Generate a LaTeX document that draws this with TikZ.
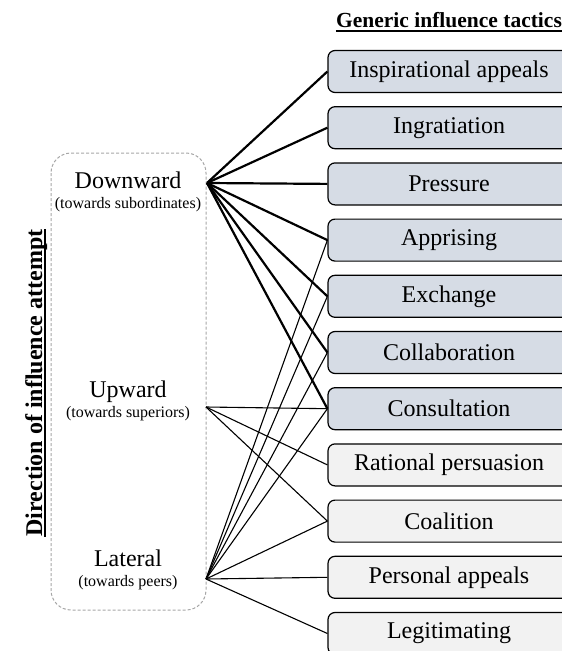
\documentclass[tikz,border=0pt]{standalone}
\usepackage{fontspec}
\setmainfont{Liberation Serif}
\usetikzlibrary{positioning}

\definecolor{tacticblue}{HTML}{D6DCE5}
\definecolor{tacticgray}{HTML}{F2F2F2}
\definecolor{framegray}{HTML}{A6A6A6}

\tikzset{
    tactic/.style={draw, line width=1.2pt, rounded corners=7pt, minimum width=242pt,
        minimum height=42pt, inner sep=0pt, font=\fontsize{24}{28}\selectfont},
    dirlabel/.style={anchor=base, inner sep=0pt, font=\fontsize{24}{28}\selectfont},
    dirsub/.style={anchor=base, inner sep=0pt, font=\fontsize{16}{19}\selectfont},
    strong/.style={line width=2.2pt},
    weak/.style={line width=1.1pt},
}

\begin{document}
\begin{tikzpicture}[x=1pt, y=-1pt]
    \useasboundingbox (0,0) rectangle (562,651);
    \clip (0,0) rectangle (562,651);
    \def\pitch{56.2}

    % tactics, the first seven shaded
    \foreach[count=\i] \val/\shade in {Inspirational appeals/tacticblue, Ingratiation/tacticblue,
        Pressure/tacticblue, Apprising/tacticblue, Exchange/tacticblue, Collaboration/tacticblue,
        Consultation/tacticblue, Rational persuasion/tacticgray, Coalition/tacticgray,
        Personal appeals/tacticgray, Legitimating/tacticgray} {
        \node[tactic, fill=\shade] (t\i) at (449, {71.5+\pitch*(\i-1)}) {\val};
    }
    \node[anchor=base, inner sep=0pt, font=\bfseries\fontsize{21.5}{24}\selectfont] (title) at (449,27) {Generic influence tactics};
    \draw[line width=1.8pt] ([yshift=-4pt]title.base west) -- ([yshift=-4pt]title.base east);

    % directions
    \draw[framegray, line width=1pt, dash pattern=on 3pt off 2pt, rounded corners=20pt] (51,153) rectangle (206,610);
    \node[dirlabel] (down) at (128,188) {Downward};
    \node[dirsub] (down-sub) at (128,208) {(towards subordinates)};
    \node[dirlabel] (up) at (128,397) {Upward};
    \node[dirsub] (up-sub) at (128,417) {(towards superiors)};
    \node[dirlabel] (lat) at (128,566) {Lateral};
    \node[dirsub] (lat-sub) at (128,586) {(towards peers)};
    \coordinate (down-out) at (207,183);
    \coordinate (up-out) at (206,407);
    \coordinate (lat-out) at (206,579);

    \node[rotate=90, anchor=base, inner sep=0pt, font=\bfseries\fontsize{24}{28}\selectfont] (dir) at (42,383) {Direction of influence attempt};
    \draw[line width=1.8pt] ([xshift=3pt]dir.base west) -- ([xshift=3pt]dir.base east);

    \foreach \t in {1,...,7}
        \draw[strong] (down-out) -- (t\t.west);
    \foreach \t in {7,8,9}
        \draw[weak] (up-out) -- (t\t.west);
    \foreach \t in {4,5,6,7,9,10,11}
        \draw[weak] (lat-out) -- (t\t.west);
\end{tikzpicture}
\end{document}
